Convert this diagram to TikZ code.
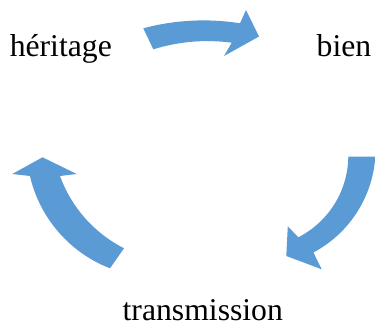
\documentclass[tikz,border=0pt]{standalone}
\usepackage{fontspec}
\setmainfont{Liberation Serif}
\definecolor{arrowblue}{HTML}{5B9BD5}
\tikzset{
  lbl/.style={anchor=base, inner sep=0pt, font=\fontsize{31.7}{38}\selectfont, text=black},
  blockarrow/.style={fill=arrowblue, draw=none}
}
\begin{document}
\begin{tikzpicture}[x=1pt,y=1pt]
\useasboundingbox (0,0) rectangle (375,332);
\fill[white] (0,0) rectangle (375,332);
\clip (0,0) rectangle (375,332);
% texts
\node[lbl] (her) at (60.8,275.3) {héritage};
\node[lbl] (bien) at (344,275.3) {bien};
\node[lbl] (trans) at (202.8,11) {transmission};
% top arrow: heritage -> bien
\path[blockarrow] (143.3,303.7) arc[start angle=104.96, end angle=80.95, radius=232.8]
  -- (246,322) -- (259,295.5) -- (224,276) -- (231.7,289.3)
  arc[start angle=82.4, end angle=107.24, radius=182.9] -- cycle;
% right arrow: bien -> transmission
\path[blockarrow] (375.3,175.3) arc[start angle=-3.77, end angle=-62, radius=117.2]
  -- (321.7,62.7) -- (286.3,76) -- (287.8,105.7) -- (298.3,94.7)
  arc[start angle=-62.96, end angle=-0.69, radius=91.7] -- cycle;
% left arrow: transmission -> heritage
\path[blockarrow] (30,156) -- (12.3,158) -- (42.5,174.7) -- (76.7,158) -- (60,156)
  arc[start angle=199.95, end angle=243.1, radius=131.3]
  -- (110,63.7) arc[start angle=248.8, end angle=193, radius=130.7] -- cycle;
\end{tikzpicture}
\end{document}
